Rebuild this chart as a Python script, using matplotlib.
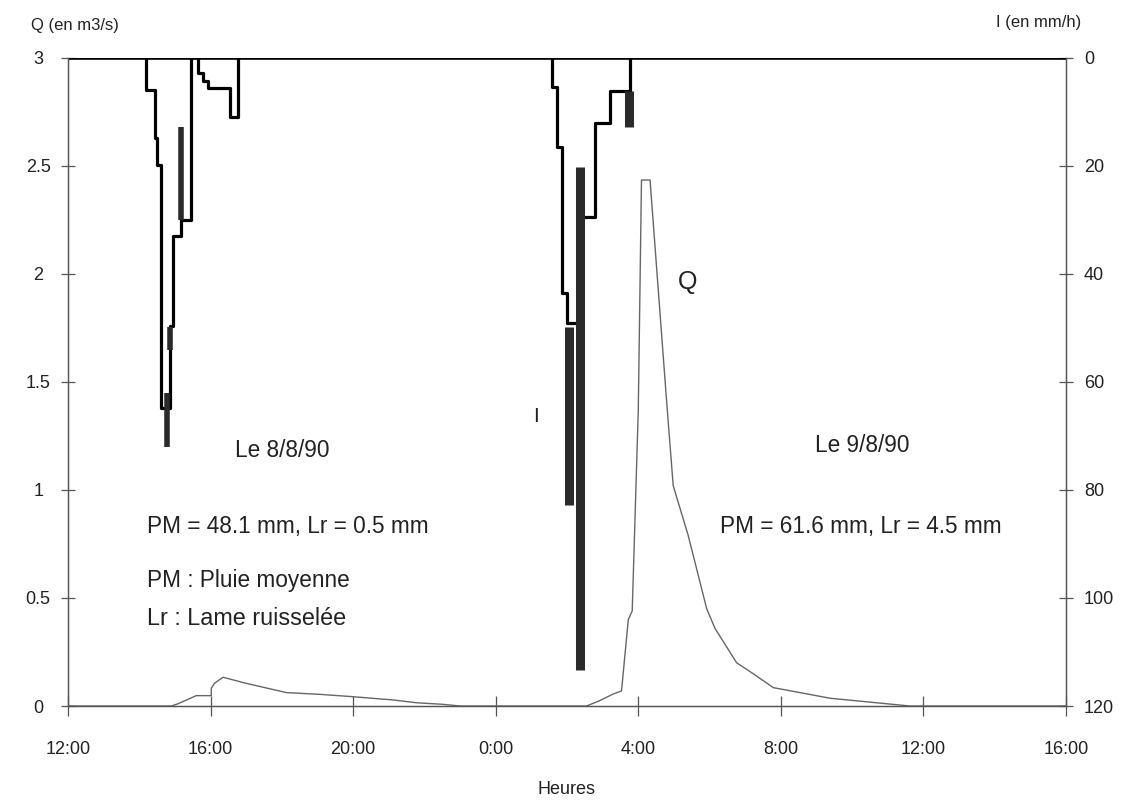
import numpy as np
import matplotlib.pyplot as plt

# time in hours since 12:00 on 8/8/90
hour_ticks = [0, 4, 8, 12, 16, 20, 24, 28]
hour_labels = ["12:00", "16:00", "20:00", "0:00", "4:00", "8:00", "12:00", "16:00"]

# discharge Q (m3/s)
q_t = [0.0, 2.9, 3.08, 3.6, 4.02, 4.02, 4.11, 4.35, 5.0, 6.13, 7.06, 8.0, 9.12, 9.78, 10.5, 11.0,
       14.55, 14.92, 15.29, 15.53, 15.72, 15.83, 16.0, 16.09, 16.33, 16.8, 16.98, 17.4, 17.92,
       18.15, 18.76, 19.13, 19.79, 21.38, 22.87, 23.62, 28.0]
q_v = [0.0, 0.0, 0.01, 0.048, 0.048, 0.082, 0.105, 0.133, 0.105, 0.062, 0.054, 0.043, 0.028, 0.015, 0.008, 0.0,
       0.0, 0.025, 0.055, 0.07, 0.40, 0.44, 1.37, 2.435, 2.435, 1.40, 1.02, 0.79, 0.45,
       0.36, 0.20, 0.16, 0.085, 0.036, 0.012, 0.0, 0.0]

# rain intensity I (mm/h), step outlines
i1a_t = [2.19, 2.43, 2.49, 2.62, 2.86, 2.95, 3.18, 3.46]
i1a_v = [5.9, 14.9, 19.8, 64.9, 49.7, 33.0, 30.0, 0.0]
i1b_t = [3.64, 3.78, 3.925, 4.534, 4.767]
i1b_v = [2.8, 4.3, 5.6, 10.9, 0.0]
i2_t = [13.59, 13.72, 13.86, 13.99, 14.36, 14.78, 15.2, 15.76]
i2_v = [5.3, 16.4, 43.6, 49.0, 29.4, 12.1, 6.2, 0.0]

# heavy bars (I, mm/h)
bar1_t = [2.78, 2.87, 3.18]
bar1_top = [62.0, 49.8, 12.7]
bar1_bot = [72.0, 54.0, 30.0]
bar2_t = [14.05, 14.36, 15.74]
bar2_top = [49.8, 20.1, 6.2]
bar2_bot = [82.8, 113.3, 12.7]

plt.rcParams['font.family'] = ['Liberation Sans', 'DejaVu Sans']
ink = '#222222'

fig = plt.figure(figsize=(11.35, 8.01), dpi=100)
ax = fig.add_axes([0.0599, 0.1186, 0.8793, 0.809])
ax2 = ax.twinx()

ax.plot(q_t, q_v, color='#666666', lw=1.0)

def step_line(t, v, **kw):
    ax2.step([t[0]] + t, [0.0] + v, where='post', **kw)

step_line(i1a_t, i1a_v, color='black', lw=2.3)
step_line(i1b_t, i1b_v, color='black', lw=2.3)
step_line(i2_t, i2_v, color='black', lw=2.3)
ax2.vlines(bar1_t, bar1_top, bar1_bot, color='#2a2a2a', lw=4)
ax2.vlines(bar2_t, bar2_top, bar2_bot, color='#2a2a2a', lw=6.5)
ax2.axhline(0, color='black', lw=2.6)

ax.set_xlim(0, 28)
ax.set_ylim(0, 3)
ax2.set_ylim(120, 0)

ax.set_xticks(hour_ticks)
ax.set_xticklabels(hour_labels)
ax.set_yticks([0, 0.5, 1, 1.5, 2, 2.5, 3])
ax.set_yticklabels(["0", "0.5", "1", "1.5", "2", "2.5", "3"], ha='center')
ax2.set_yticks([0, 20, 40, 60, 80, 100, 120])

for a in (ax, ax2):
    a.spines['top'].set_visible(False)
    for s in a.spines.values():
        s.set_color('#555555')
        s.set_linewidth(0.9)
ax.tick_params(axis='x', direction='inout', length=14, width=0.9, color='#555555',
               pad=18, labelsize=13, labelcolor=ink)
ax.tick_params(axis='y', direction='inout', length=10, width=0.9, color='#555555',
               pad=16.5, labelsize=13, labelcolor=ink)
ax2.tick_params(axis='y', direction='inout', length=10, width=0.9, color='#555555',
                pad=8, labelsize=13, labelcolor=ink)

ax.set_xlabel("Heures", fontsize=13, color=ink, labelpad=17)
fig.text(0.027, 0.968, "Q (en m3/s)", fontsize=12, color=ink, va='center')
fig.text(0.953, 0.972, "I (en mm/h)", fontsize=12, color=ink, va='center', ha='right')

txt = dict(fontsize=16.3, color=ink, va='center')
ax.text(6.02, 1.185, "Le 8/8/90", ha='center', **txt)
ax.text(2.23, 0.83, "PM = 48.1 mm, Lr = 0.5 mm", ha='left', **txt)
ax.text(2.23, 0.583, "PM : Pluie moyenne", ha='left', fontsize=16.3, color=ink, va='center')
ax.text(2.23, 0.407, "Lr : Lame ruisselée", ha='left', fontsize=16.8, color=ink, va='center')
ax.text(13.12, 1.338, "I", ha='center', fontsize=15, color=ink, va='center')
ax.text(17.39, 1.963, "Q", ha='center', fontsize=18, color=ink, va='center')
ax.text(22.28, 1.208, "Le 9/8/90", ha='center', **txt)
ax.text(18.29, 0.83, "PM = 61.6 mm, Lr = 4.5 mm", ha='left', **txt)

fig.savefig("out.png", dpi=100)
